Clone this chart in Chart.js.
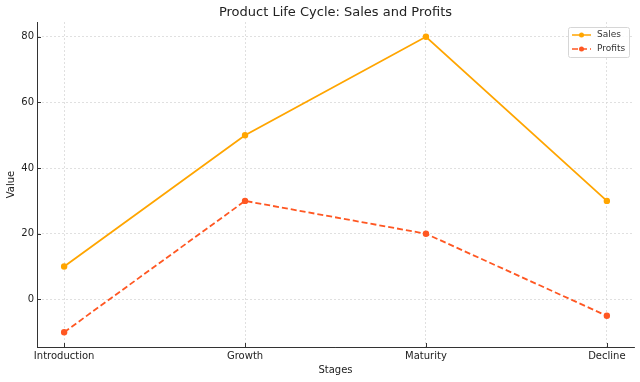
<!DOCTYPE html>
<html>
<head>
<meta charset="utf-8">
<script src="https://cdn.jsdelivr.net/npm/chart.js@4/dist/chart.umd.min.js"></script>
<style>
  html, body { margin: 0; padding: 0; background: #fff; }
  #wrap { width: 640px; height: 382px; }
</style>
</head>
<body>
<div id="wrap"><canvas id="c" width="640" height="382"></canvas></div>
<script>
const stages = ['Introduction', 'Growth', 'Maturity', 'Decline'];
const sales = [10, 50, 80, 30];
const profits = [-10, 30, 20, -5];
const yTicks = [0, 20, 40, 60, 80];

const FONT = 'DejaVu Sans, sans-serif';
const salesColor = '#FFA500';
const profitsColor = '#FF5722';

const frameExtras = {
  id: 'frameExtras',
  afterDraw(chart) {
    const ctx = chart.ctx;
    const area = chart.chartArea;
    const xs = chart.scales.x;
    const ys = chart.scales.y;
    ctx.save();
    // inward tick marks
    ctx.strokeStyle = '#333';
    ctx.lineWidth = 1;
    ctx.beginPath();
    stages.forEach((s, i) => {
      const px = Math.round(xs.getPixelForValue(i)) + 0.5;
      ctx.moveTo(px, area.bottom);
      ctx.lineTo(px, area.bottom - 4);
    });
    yTicks.forEach(v => {
      const py = Math.round(ys.getPixelForValue(v)) + 0.5;
      ctx.moveTo(area.left, py);
      ctx.lineTo(area.left + 4, py);
    });
    ctx.stroke();

    // title centred over the plot area
    ctx.fillStyle = '#222';
    ctx.font = '13px ' + FONT;
    ctx.textAlign = 'center';
    ctx.textBaseline = 'middle';
    ctx.fillText('Product Life Cycle: Sales and Profits', (area.left + area.right) / 2, 12.5);

    // legend box, top right inside the plot
    const bx = area.right - 66, by = area.top + 5, bw = 61, bh = 30;
    ctx.fillStyle = 'rgba(255,255,255,0.85)';
    ctx.strokeStyle = '#d6d6d6';
    ctx.lineWidth = 1;
    ctx.beginPath();
    ctx.roundRect(bx + 0.5, by + 0.5, bw, bh, 2);
    ctx.fill();
    ctx.stroke();
    ctx.font = '9px ' + FONT;
    ctx.textAlign = 'left';
    chart.data.datasets.forEach((ds, i) => {
      const ly = by + 8 + i * 14;
      ctx.strokeStyle = ds.borderColor;
      ctx.lineWidth = 1.5;
      ctx.setLineDash(ds.borderDash || []);
      ctx.beginPath();
      ctx.moveTo(bx + 4, ly);
      ctx.lineTo(bx + 23, ly);
      ctx.stroke();
      ctx.setLineDash([]);
      ctx.fillStyle = ds.borderColor;
      ctx.beginPath();
      ctx.arc(bx + 13.5, ly, 2.5, 0, Math.PI * 2);
      ctx.fill();
      ctx.fillStyle = '#333';
      ctx.fillText(ds.label, bx + 29, ly);
    });
    ctx.restore();
  }
};

const ctx = document.getElementById('c').getContext('2d');
new Chart(ctx, {
  type: 'line',
  data: {
    datasets: [
      {
        label: 'Sales',
        data: stages.map((s, i) => ({ x: i, y: sales[i] })),
        borderColor: salesColor,
        backgroundColor: salesColor,
        borderWidth: 1.8,
        pointRadius: 2.3,
        pointHoverRadius: 2.3,
        tension: 0
      },
      {
        label: 'Profits',
        data: stages.map((s, i) => ({ x: i, y: profits[i] })),
        borderColor: profitsColor,
        backgroundColor: profitsColor,
        borderWidth: 1.8,
        borderDash: [6, 3],
        pointRadius: 2.3,
        pointHoverRadius: 2.3,
        tension: 0
      }
    ]
  },
  options: {
    responsive: false,
    animation: false,
    layout: { padding: { top: 22, right: 6, left: 0, bottom: 0 } },
    plugins: {
      legend: { display: false },
      title: { display: false },
      tooltip: { enabled: false }
    },
    scales: {
      x: {
        type: 'linear',
        min: -0.15,
        max: 3.15,
        afterBuildTicks(scale) {
          scale.ticks = stages.map((s, i) => ({ value: i }));
        },
        afterFit(scale) { scale.height = 35; },
        ticks: {
          color: '#222',
          font: { family: FONT, size: 10 },
          padding: 3,
          maxRotation: 0,
          autoSkip: false,
          callback: v => stages[v]
        },
        grid: {
          color: '#d9d9d9',
          lineWidth: 0.8,
          drawTicks: false
        },
        border: { display: true, color: '#333', width: 1, dash: [2, 2] },
        title: {
          display: true,
          text: 'Stages',
          color: '#222',
          font: { family: FONT, size: 10 },
          padding: { top: 2, bottom: 6 }
        }
      },
      y: {
        min: -14.5,
        max: 84.5,
        afterBuildTicks(scale) {
          scale.ticks = yTicks.map(v => ({ value: v }));
        },
        afterFit(scale) { scale.width = 37; },
        ticks: {
          color: '#222',
          font: { family: FONT, size: 10 },
          padding: 3
        },
        grid: {
          color: '#d9d9d9',
          lineWidth: 0.8,
          drawTicks: false
        },
        border: { display: true, color: '#333', width: 1, dash: [2, 2] },
        title: {
          display: true,
          text: 'Value',
          color: '#222',
          font: { family: FONT, size: 10 },
          padding: { top: 5, bottom: 2 }
        }
      }
    }
  },
  plugins: [frameExtras]
});
</script>
</body>
</html>
